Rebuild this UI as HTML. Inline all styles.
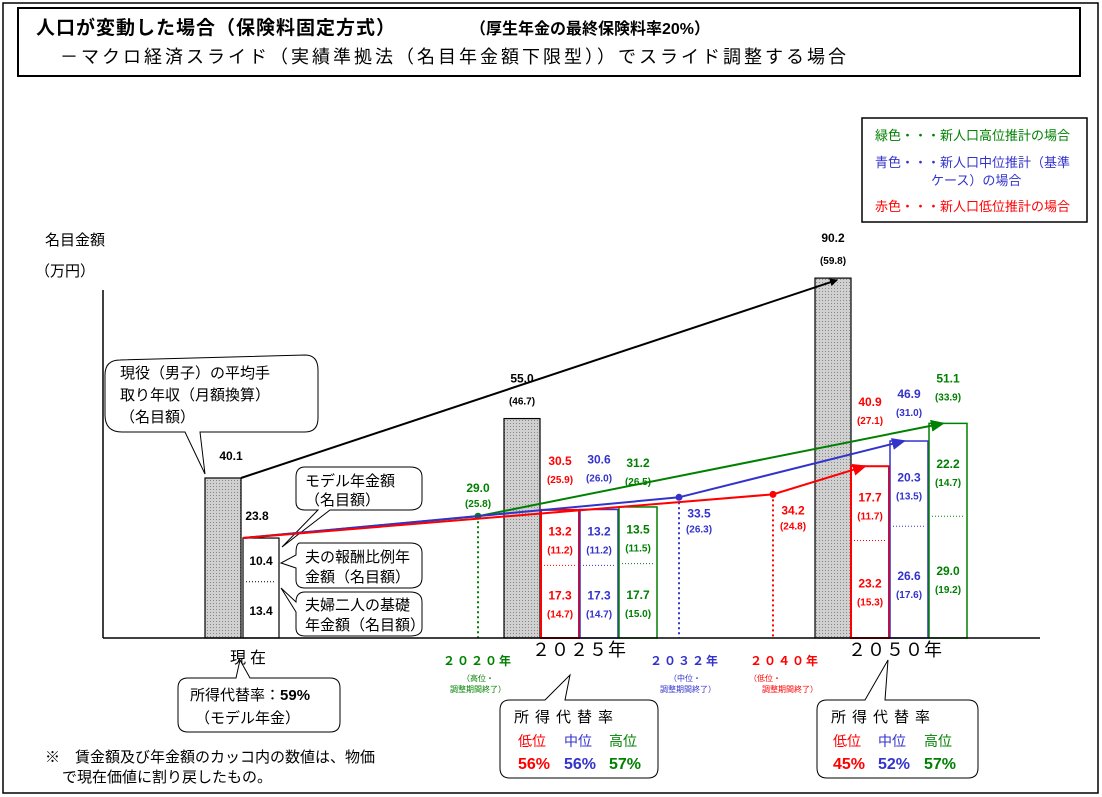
<!DOCTYPE html>
<html><head><meta charset="utf-8">
<style>
body{margin:0;background:#fff}
svg{display:block;font-family:"Liberation Sans","Noto Sans CJK JP",sans-serif}
</style></head>
<body>
<svg id="chart" width="1102" height="797" viewBox="0 0 1102 797" xmlns="http://www.w3.org/2000/svg">
<defs>
<pattern id="dots" width="3" height="3" patternUnits="userSpaceOnUse"><rect width="3" height="3" fill="#d0d0d0"/><rect width="1" height="1" fill="#888"/></pattern>
<marker id="ak" markerWidth="8" markerHeight="8" refX="7" refY="4" orient="auto" markerUnits="userSpaceOnUse"><path d="M0,0L8,4L0,8z" fill="#000"/></marker>
<marker id="ag" markerWidth="14" markerHeight="12" refX="12" refY="6" orient="auto" markerUnits="userSpaceOnUse"><path d="M0,0L14,6L0,12z" fill="#008000"/></marker>
<marker id="ab" markerWidth="14" markerHeight="12" refX="12" refY="6" orient="auto" markerUnits="userSpaceOnUse"><path d="M0,0L14,6L0,12z" fill="#3333cc"/></marker>
<marker id="ar" markerWidth="14" markerHeight="12" refX="12" refY="6" orient="auto" markerUnits="userSpaceOnUse"><path d="M0,0L14,6L0,12z" fill="#ff0000"/></marker>
</defs>
<rect x="3" y="3" width="1095" height="790" fill="#fff" stroke="#000" stroke-width="1.5"/>
<g>
<rect x="18" y="8" width="1062" height="68" fill="#fff" stroke="#000" stroke-width="2"/>
<text x="36" y="34" font-size="19" font-weight="bold" letter-spacing="1">人口が変動した場合（保険料固定方式）</text>
<text x="470" y="34" font-size="16" font-weight="bold">（厚生年金の最終保険料率20%）</text>
<text x="60" y="63" font-size="18" letter-spacing="3">－マクロ経済スライド（実績準拠法（名目年金額下限型））でスライド調整する場合</text>
</g>
<g>
<rect x="862" y="118" width="225" height="104" fill="#fff" stroke="#000" stroke-width="1.5"/>
<text x="875" y="140" font-size="13" fill="#008000">緑色・・・新人口高位推計の場合</text>
<text x="875" y="167" font-size="13" fill="#3333cc">青色・・・新人口中位推計（基準</text>
<text x="931" y="185" font-size="13" fill="#3333cc">ケース）の場合</text>
<text x="875" y="211" font-size="13" fill="#ff0000">赤色・・・新人口低位推計の場合</text>
</g>
<text x="45" y="245" font-size="15">名目金額</text>
<text x="35" y="276" font-size="15">（万円）</text>
<line x1="103" y1="290" x2="103" y2="638" stroke="#000" stroke-width="1.5"/>
<g font-size="15">
<path d="M120,360 Q105,360 105,375 L105,415 Q105,432 122,432 L185,432 L205,474 L200,432 L305,432 Q318,432 318,418 L318,370 Q318,355 305,355 Z" fill="#fff" stroke="#000"/>
<text x="120" y="378">現役（男子）の平均手</text>
<text x="120" y="400">取り年収（月額換算）</text>
<text x="120" y="422">（名目額）</text>
<path d="M305,467 Q296,467 296,477 L296,502 Q296,510 305,510 L318,510 L282,547 L330,510 L410,510 Q422,510 422,500 L422,477 Q422,467 410,467 Z" fill="#fff" stroke="#000"/>
<text x="305" y="486">モデル年金額</text>
<text x="305" y="505">（名目額）</text>
<path d="M300,543 Q296,543 296,553 L296,555 L281,563 L296,568 L296,580 Q296,588 305,588 L410,588 Q422,588 422,578 L422,553 Q422,543 410,543 Z" fill="#fff" stroke="#000"/>
<text x="305" y="562">夫の報酬比例年</text>
<text x="305" y="582">金額（名目額）</text>
<path d="M305,592 Q296,592 296,602 L281,588 L296,612 L296,628 Q296,636 305,636 L410,636 Q422,636 422,628 L422,602 Q422,592 410,592 Z" fill="#fff" stroke="#000"/>
<text x="305" y="610">夫婦二人の基礎</text>
<text x="305" y="630">年金額（名目額）</text>
</g>
<g id="marks"></g>
<line x1="103" y1="638" x2="1040" y2="638" stroke="#000" stroke-width="1.5"/>
<g>
<text x="230" y="663" font-size="16" letter-spacing="4">現在</text>
<text x="532" y="656" font-size="18" letter-spacing="1">２０２５年</text>
<text x="848" y="656" font-size="18" letter-spacing="1">２０５０年</text>
<text x="478" y="665" font-size="12" font-weight="bold" fill="#008000" text-anchor="middle" letter-spacing="2">２０２０年</text>
<text x="478" y="681" font-size="8" fill="#008000" text-anchor="middle">（高位・</text>
<text x="478" y="692" font-size="8" fill="#008000" text-anchor="middle">調整期間終了）</text>
<text x="685" y="665" font-size="12" font-weight="bold" fill="#3333cc" text-anchor="middle" letter-spacing="2">２０３２年</text>
<text x="685" y="681" font-size="8" fill="#3333cc" text-anchor="middle">（中位・</text>
<text x="688" y="692" font-size="8" fill="#3333cc" text-anchor="middle">調整期間終了）</text>
<text x="785" y="665" font-size="12" font-weight="bold" fill="#ff0000" text-anchor="middle" letter-spacing="2">２０４０年</text>
<text x="765" y="681" font-size="8" fill="#ff0000" text-anchor="middle">（低位・</text>
<text x="790" y="692" font-size="8" fill="#ff0000" text-anchor="middle">調整期間終了）</text>
</g>
<g>
<path d="M188,678 L236,678 L240,660 L250,678 L330,678 Q340,678 340,688 L340,722 Q340,732 330,732 L188,732 Q178,732 178,722 L178,688 Q178,678 188,678Z" fill="#fff" stroke="#000"/>
<text x="190" y="700" font-size="15">所得代替率：<tspan font-weight="bold">59%</tspan></text>
<text x="195" y="723" font-size="15">（モデル年金）</text>
</g>
<g>
<path d="M510,700 L545,700 L570,675 L565,700 L648,700 Q658,700 658,710 L658,768 Q658,778 648,778 L510,778 Q500,778 500,768 L500,710 Q500,700 510,700Z" fill="#fff" stroke="#000"/>
<text x="514" y="722" font-size="15" letter-spacing="6">所得代替率</text>
<text x="518" y="746" font-size="14" fill="#ff0000">低位</text><text x="564" y="746" font-size="14" fill="#3333cc">中位</text><text x="609" y="746" font-size="14" fill="#008000">高位</text>
<text x="518" y="769" font-size="16" font-weight="bold" fill="#ff0000">56%</text><text x="564" y="769" font-size="16" font-weight="bold" fill="#3333cc">56%</text><text x="609" y="769" font-size="16" font-weight="bold" fill="#008000">57%</text>
</g>
<g>
<path d="M827,700 L865,700 L888,660 L885,700 L968,700 Q978,700 978,710 L978,768 Q978,778 968,778 L827,778 Q817,778 817,768 L817,710 Q817,700 827,700Z" fill="#fff" stroke="#000"/>
<text x="831" y="722" font-size="15" letter-spacing="6">所得代替率</text>
<text x="833" y="746" font-size="14" fill="#ff0000">低位</text><text x="878" y="746" font-size="14" fill="#3333cc">中位</text><text x="924" y="746" font-size="14" fill="#008000">高位</text>
<text x="833" y="769" font-size="16" font-weight="bold" fill="#ff0000">45%</text><text x="878" y="769" font-size="16" font-weight="bold" fill="#3333cc">52%</text><text x="924" y="769" font-size="16" font-weight="bold" fill="#008000">57%</text>
</g>
<g font-size="15">
<text x="45" y="762">※　賃金額及び年金額のカッコ内の数値は、物価</text>
<text x="62" y="782">で現在価値に割り戻したもの。</text>
</g>
<script>
const wageX = [205, 504, 815];
const wageVals = [40.1, 55.0, 90.2];
const wageReal = ["", "(46.7)", "(59.8)"];
const pensX = [541, 851];
const pensColors = ["#ff0000", "#3333cc", "#008000"];
const pensTotals = [[30.5, 30.6, 31.2], [40.9, 46.9, 51.1]];
const pensTotalsReal = [["(25.9)", "(26.0)", "(26.5)"], ["(27.1)", "(31.0)", "(33.9)"]];
const pensUpper = [[13.2, 13.2, 13.5], [17.7, 20.3, 22.2]];
const pensUpperReal = [["(11.2)", "(11.2)", "(11.5)"], ["(11.7)", "(13.5)", "(14.7)"]];
const pensLower = [[17.3, 17.3, 17.7], [23.2, 26.6, 29.0]];
const pensLowerReal = [["(14.7)", "(14.7)", "(15.0)"], ["(15.3)", "(17.6)", "(19.2)"]];
const modelTotal = 23.8;
const modelUpper = 10.4;
const modelLower = 13.4;
const endX = [478, 679, 773];
const endVals = [29.0, 33.5, 34.2];
const endReal = ["(25.8)", "(26.3)", "(24.8)"];
const endColorIdx = [2, 1, 0];

const NS = "http://www.w3.org/2000/svg";
const g = document.getElementById("marks");
const base = 638;
const labelOffsets = [[45, 46, 40], [60, 43, 41]];
function wageY(v){ return base - v * 3.99; }
function pensY(v){ return base - v * 4.2; }
function el(tag, attrs, parent){ const e = document.createElementNS(NS, tag); for (const k in attrs) e.setAttribute(k, attrs[k]); (parent||g).appendChild(e); return e; }
function txt(x, y, s, fill, size){ const t = el("text", {x:x, y:y, "text-anchor":"middle", "font-size":size||12, "font-weight":"bold", fill:fill}); t.textContent = s; return t; }

// wage bars
wageVals.forEach((v, i) => {
  const r = el("rect", {x:wageX[i], y:wageY(v), width:36, height:base - wageY(v), fill:"url(#dots)", stroke:"#000", "stroke-width":1.2});
  
  
  const t = txt(wageX[i] + 18 + (i==0?8:0), wageY(v) - (i==0?18:36), v.toFixed(1), "#000", 12);
  
  
  if (wageReal[i]) {
    const t2 = txt(wageX[i] + 18, wageY(v) - 14, wageReal[i], "#000", 10);
    
    
  }
});
const wl = el("line", {x1:wageX[0]+36, y1:wageY(wageVals[0]), x2:wageX[2]+22, y2:wageY(wageVals[2])+2, stroke:"#000", "stroke-width":2, "marker-end":"url(#ak)"});



// model pension bar
const mx = 243;
const mb = el("rect", {x:mx, y:pensY(modelTotal), width:36, height:base - pensY(modelTotal), fill:"#fff", stroke:"#000", "stroke-width":1.2});


el("line", {x1:mx+3, x2:mx+33, y1:pensY(modelLower), y2:pensY(modelLower), stroke:"#000", "stroke-dasharray":"1,2"});
const mt = txt(mx + 14, pensY(modelTotal) - 18, modelTotal.toFixed(1), "#000", 12);


txt(mx + 18, (pensY(modelTotal) + pensY(modelLower)) / 2 + 5, modelUpper.toFixed(1), "#000", 12);
txt(mx + 18, (pensY(modelLower) + base) / 2 + 5, modelLower.toFixed(1), "#000", 12);

// pension bars
pensX.forEach((px, yi) => {
  for (let c = 0; c < 3; c++) {
    const x = px + c * 39, col = pensColors[c];
    const top = pensY(pensTotals[yi][c]), mid = pensY(pensLower[yi][c]);
    const r = el("rect", {x:x, y:top, width:38, height:base - top, fill:"#fff", stroke:col, "stroke-width":c==0?2:1.5});
    
    
    el("line", {x1:x+3, x2:x+35, y1:mid, y2:mid, stroke:col, "stroke-dasharray":"1,2"});
    const off = labelOffsets[yi][c];
    const tv = txt(x + 19, top - off, pensTotals[yi][c].toFixed(1), col, 12);
    
    
    txt(x + 19, top - off + 18, pensTotalsReal[yi][c], col, 10);
    const um = (top + mid) / 2;
    txt(x + 19, um - 2, pensUpper[yi][c].toFixed(1), col, 12);
    txt(x + 19, um + 16, pensUpperReal[yi][c], col, 10);
    const lm = (mid + base) / 2;
    txt(x + 19, lm - 2, pensLower[yi][c].toFixed(1), col, 12);
    txt(x + 19, lm + 16, pensLowerReal[yi][c], col, 10);
  }
});

// growth lines
const startX = mx, startY = pensY(modelTotal);
const arrowIds = ["ar", "ab", "ag"];
for (let k = 0; k < 3; k++) {
  const c = endColorIdx[k], col = pensColors[c];
  const ex = endX[k], ey = pensY(endVals[k]);
  const tx = pensX[1] + c * 39 + 14, ty = pensY(pensTotals[1][c]);
  const ln = el("polyline", {points:`${startX},${startY} ${ex},${ey} ${tx},${ty}`, fill:"none", stroke:col, "stroke-width":2, "marker-end":`url(#${arrowIds[c]})`});
  
  
  el("circle", {cx:ex, cy:ey, r:3.5, fill:col});
  const dl = el("line", {x1:ex, y1:ey, x2:ex, y2:base, stroke:col, "stroke-width":2, "stroke-dasharray":"2,3"});
  
  
  const lx = c == 2 ? ex : ex + 20, ly = c == 2 ? ey - 24 : ey + 20;
  txt(lx, ly, endVals[k].toFixed(1), col, 12);
  txt(lx, ly + 15, endReal[k], col, 10);
}
</script>
</svg>
</body></html>
